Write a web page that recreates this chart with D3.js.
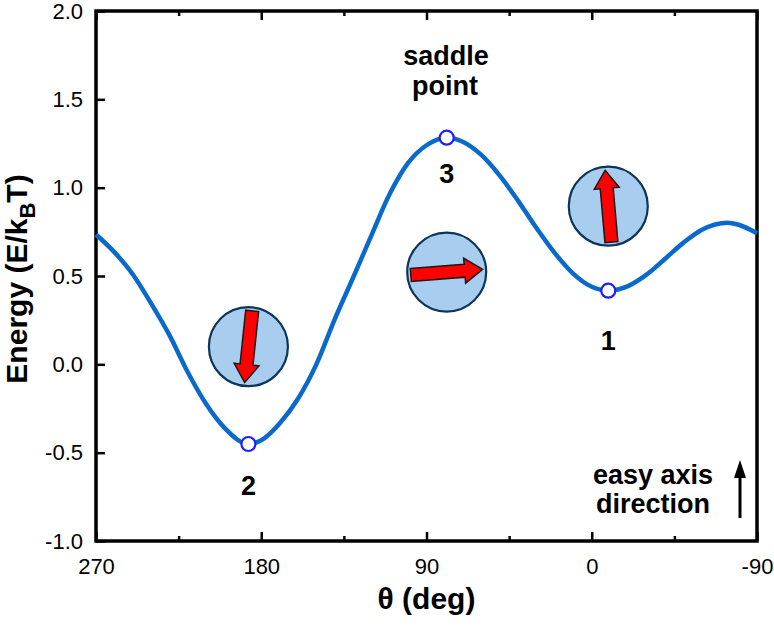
<!DOCTYPE html>
<meta charset="utf-8">
<head>
  <title>Energy landscape</title>
</head>
<style>
    body {
        margin: 0;
        background-color: white;
    }
    text {
        font-family: "Liberation Sans", Arial, sans-serif;
    }
    .tick line {
        stroke: black;
        stroke-width: 2.5px;
    }
    .tick text {
        font-size: 22px;
        fill: black;
    }
    .note {
        font-size: 27px;
        font-weight: bold;
        text-anchor: middle;
    }
</style>
<body>
    <svg id="chart" width="774" height="627"></svg>

    <script src="https://cdnjs.cloudflare.com/ajax/libs/d3/7.8.5/d3.min.js"></script>

    <script>
        // curve
        var theta  = [270, 260, 250, 240, 230, 220, 210, 200, 187, 180, 170, 160, 150, 140, 130, 120, 110, 100, 90, 79,
                      70, 60, 50, 40, 30, 20, 10, 0, -9, -20, -30, -40, -50, -60, -74, -80, -90];
        var energy = [0.735, 0.635, 0.51, 0.345, 0.165, -0.045, -0.225, -0.36, -0.451, -0.43, -0.335, -0.195, 0.0, 0.255, 0.49, 0.73, 0.965, 1.14, 1.24, 1.283,
                      1.259, 1.184, 1.067, 0.924, 0.77, 0.628, 0.512, 0.439, 0.417, 0.444, 0.509, 0.598, 0.689, 0.762, 0.802, 0.79, 0.742];

        // marked states
        var markTheta  = [-9, 187, 79];
        var markEnergy = [0.417, -0.451, 1.283];
        var markLabel  = ["1", "2", "3"];

        // magnet icons
        var iconTheta  = [187, 79, -9];
        var iconEnergy = [0.10, 0.522, 0.895];
        var arrowDeg   = [186, 85.5, -5];   // clockwise from "up"

        var xMajor = [270, 180, 90, 0, -90];
        var xMinor = [225, 135, 45, -45];
        var yMajor = [-1.0, -0.5, 0.0, 0.5, 1.0, 1.5, 2.0];

        var svg = d3.select("#chart");

        var mLeft = 96, mRight = 757, mTop = 11, mBottom = 541;

        var x = d3.scaleLinear().domain([270, -90]).range([mLeft, mRight]);
        var y = d3.scaleLinear().domain([-1, 2]).range([mBottom, mTop]);

        var fmtX = d => String(d);
        var fmtY = d => d.toFixed(1);

        // axes, ticks inside
        svg.append("g")
            .attr("transform", "translate(0," + mBottom + ")")
            .call(d3.axisBottom(x).tickValues(xMajor).tickFormat(fmtX)
                .tickSizeInner(-9).tickSizeOuter(0).tickPadding(17))
            .call(g => g.select(".domain").remove());

        svg.append("g")
            .attr("transform", "translate(0," + mBottom + ")")
            .call(d3.axisBottom(x).tickValues(xMinor).tickFormat("")
                .tickSizeInner(-5).tickSizeOuter(0))
            .call(g => g.select(".domain").remove());

        svg.append("g")
            .attr("transform", "translate(0," + mTop + ")")
            .call(d3.axisTop(x).tickValues(xMajor).tickFormat("")
                .tickSizeInner(-9).tickSizeOuter(0))
            .call(g => g.select(".domain").remove());

        svg.append("g")
            .attr("transform", "translate(0," + mTop + ")")
            .call(d3.axisTop(x).tickValues(xMinor).tickFormat("")
                .tickSizeInner(-5).tickSizeOuter(0))
            .call(g => g.select(".domain").remove());

        svg.append("g")
            .attr("transform", "translate(" + mLeft + ",0)")
            .call(d3.axisLeft(y).tickValues(yMajor).tickFormat(fmtY)
                .tickSizeInner(-9).tickSizeOuter(0).tickPadding(13))
            .call(g => g.select(".domain").remove());

        svg.selectAll(".tick text").attr("font-family", null).attr("font-size", null);

        // frame
        svg.append("rect")
            .attr("x", mLeft)
            .attr("y", mTop)
            .attr("width", mRight - mLeft)
            .attr("height", mBottom - mTop)
            .attr("fill", "none")
            .attr("stroke", "black")
            .attr("stroke-width", 3.5);

        // energy curve
        var pts = theta.map((t, i) => [t, energy[i]]);
        var line = d3.line()
            .x(d => x(d[0]))
            .y(d => y(d[1]))
            .curve(d3.curveMonotoneX);

        svg.append("path")
            .datum(pts)
            .attr("d", line)
            .attr("fill", "none")
            .attr("stroke", "#0a6acc")
            .attr("stroke-width", 4.5);

        // magnet icons
        var arrowShape = [[-36,-6.5],[18,-6.5],[18,-12.5],[36,0],[18,12.5],[18,6.5],[-36,6.5]];
        for (let i = 0; i < iconTheta.length; i++) {
            let g = svg.append("g")
                .attr("transform", "translate(" + x(iconTheta[i]) + "," + y(iconEnergy[i]) + ")");
            g.append("circle")
                .attr("r", 39.5)
                .attr("fill", "#a8cdef")
                .attr("stroke", "#0c3558")
                .attr("stroke-width", 2.2);
            g.append("polygon")
                .attr("points", arrowShape.map(p => p.join(",")).join(" "))
                .attr("transform", "rotate(" + (arrowDeg[i] - 90) + ")")
                .attr("fill", "#ff0000")
                .attr("stroke", "#1a1a1a")
                .attr("stroke-width", 1.5);
        }

        // marked states
        var labelDy = [59, 51, 45];
        for (let i = 0; i < markTheta.length; i++) {
            svg.append("circle")
                .attr("cx", x(markTheta[i]))
                .attr("cy", y(markEnergy[i]))
                .attr("r", 7)
                .attr("fill", "white")
                .attr("stroke", "#1f1fff")
                .attr("stroke-width", 2.2);
            svg.append("text")
                .attr("class", "note")
                .attr("x", x(markTheta[i]))
                .attr("y", y(markEnergy[i]) + labelDy[i])
                .text(markLabel[i]);
        }

        // annotations
        svg.append("text").attr("class", "note").attr("x", 446).attr("y", 65).text("saddle");
        svg.append("text").attr("class", "note").attr("x", 445).attr("y", 95).text("point");
        svg.append("text").attr("class", "note").attr("x", 653).attr("y", 484).text("easy axis");
        svg.append("text").attr("class", "note").attr("x", 653).attr("y", 513).text("direction");

        svg.append("line")
            .attr("x1", 740).attr("y1", 518)
            .attr("x2", 740).attr("y2", 475)
            .attr("stroke", "black")
            .attr("stroke-width", 3);
        svg.append("polygon")
            .attr("points", "740,460 734,478 746,478")
            .attr("fill", "black");

        // axis titles
        svg.append("text")
            .attr("x", (mLeft + mRight) / 2)
            .attr("y", 609)
            .attr("text-anchor", "middle")
            .attr("font-size", 30)
            .attr("font-weight", "bold")
            .text("θ (deg)");

        var yt = svg.append("text")
            .attr("transform", "translate(27,279) rotate(-90)")
            .attr("text-anchor", "middle")
            .attr("font-size", 30)
            .attr("font-weight", "bold");
        yt.append("tspan").text("Energy (E/k");
        yt.append("tspan").attr("font-size", 22).attr("dy", 8).text("B");
        yt.append("tspan").attr("dy", -8).text("T)");
    </script>
</body>
